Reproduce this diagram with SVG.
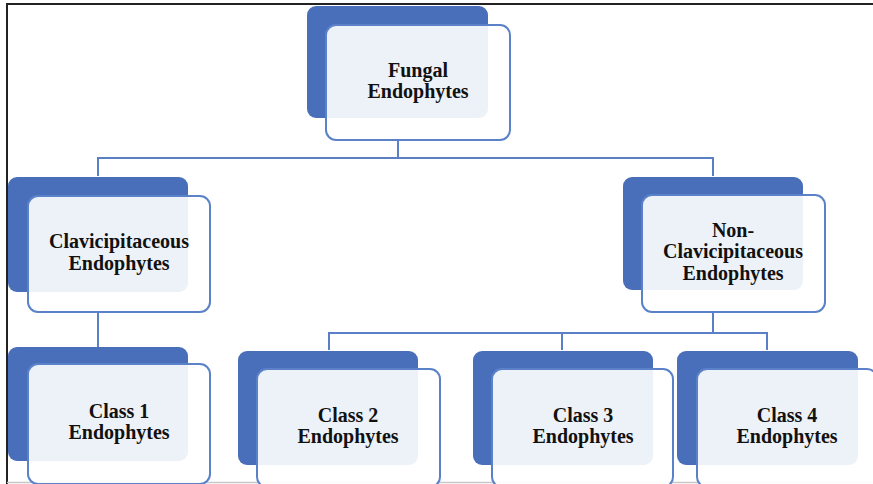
<svg xmlns="http://www.w3.org/2000/svg" width="873" height="484" viewBox="0 0 873 484">
<style>
.dk{fill:#4a6fba}
.lt{fill:#ffffff;fill-opacity:0.9;stroke:#5b82c8;stroke-width:2}
.cn{fill:none;stroke:#5b7fc6;stroke-width:2}
text{font-family:"Liberation Serif","Times New Roman",serif;font-weight:bold;font-size:20px;fill:#111;text-anchor:middle}
</style>
<rect x="0" y="0" width="873" height="484" fill="#ffffff"/>
<g id="frame" fill="none">
<path d="M7 484 V4 H873" stroke="#222" stroke-width="2"/>
<path d="M7 482.5 H873" stroke="#c8c8c8" stroke-width="1.5"/>
</g>
<g id="connectors" class="cn">
<path d="M398 140 V158 M98 176 V158 H713 V176"/>
<path d="M98 312 V347"/>
<path d="M713 312 V333 M329 350 V333 H767 V350 M562 333 V350"/>
</g>
<g id="n-fungal">
<rect class="dk" x="307" y="6" width="181" height="112" rx="9"/>
<rect class="lt" x="326" y="25" width="184" height="115" rx="10"/>
<text x="418" y="77">Fungal</text>
<text x="418" y="98">Endophytes</text>
</g>
<g id="n-clav">
<rect class="dk" x="8" y="177" width="180" height="115" rx="9"/>
<rect class="lt" x="28" y="196" width="182" height="116" rx="10"/>
<text x="119" y="248">Clavicipitaceous</text>
<text x="119" y="270">Endophytes</text>
</g>
<g id="n-nonclav">
<rect class="dk" x="623" y="177" width="180" height="113" rx="9"/>
<rect class="lt" x="642" y="195" width="183" height="117" rx="10"/>
<text x="733" y="237">Non-</text>
<text x="733" y="258">Clavicipitaceous</text>
<text x="733" y="280">Endophytes</text>
</g>
<g id="n-class1">
<rect class="dk" x="8" y="347" width="180" height="114" rx="9"/>
<rect class="lt" x="28" y="364" width="182" height="120" rx="10"/>
<text x="119" y="418">Class 1</text>
<text x="119" y="439">Endophytes</text>
</g>
<g id="n-class2">
<rect class="dk" x="238" y="351" width="180" height="114" rx="9"/>
<rect class="lt" x="257" y="369" width="183" height="118" rx="10"/>
<text x="348" y="422">Class 2</text>
<text x="348" y="443">Endophytes</text>
</g>
<g id="n-class3">
<rect class="dk" x="473" y="351" width="180" height="114" rx="9"/>
<rect class="lt" x="492" y="369" width="181" height="118" rx="10"/>
<text x="583" y="422">Class 3</text>
<text x="583" y="443">Endophytes</text>
</g>
<g id="n-class4">
<rect class="dk" x="677" y="351" width="181" height="114" rx="9"/>
<rect class="lt" x="697" y="369" width="180" height="118" rx="10"/>
<text x="787" y="422">Class 4</text>
<text x="787" y="443">Endophytes</text>
</g>
</svg>
